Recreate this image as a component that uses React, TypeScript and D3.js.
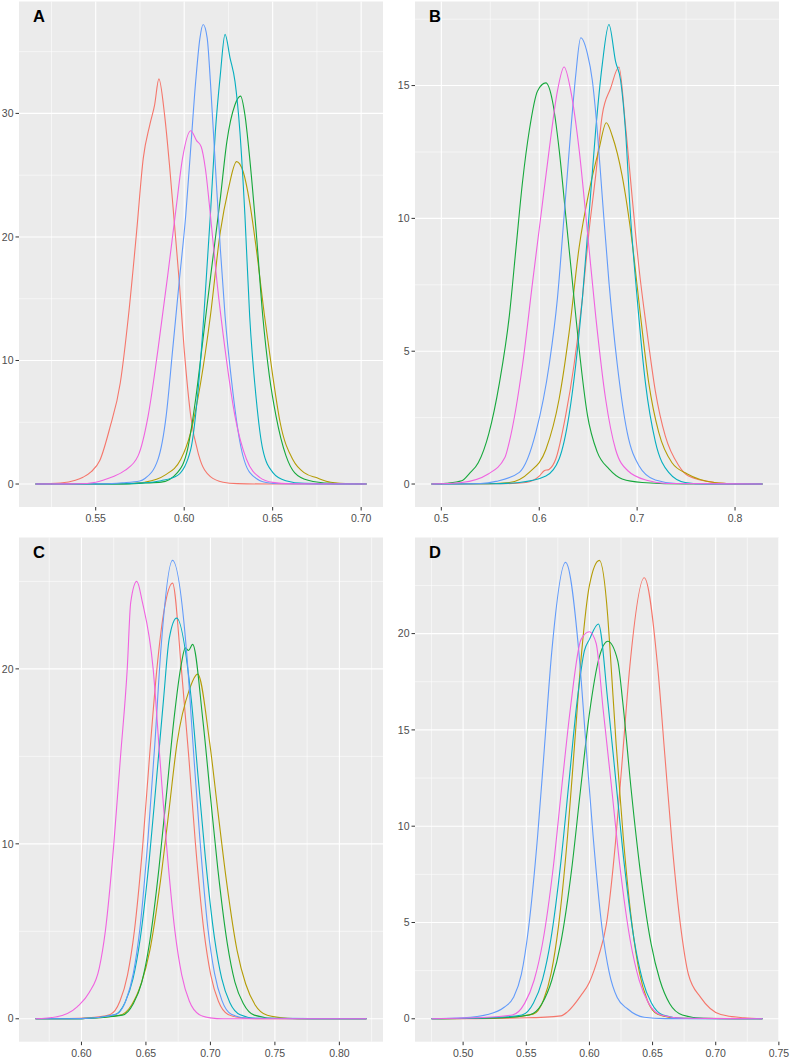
import React from 'react';
import * as d3 from 'd3';

type Pt = [number, number];

// hue palette, one colour per group (drawing order)
const COLORS = ['#F5766B', '#B49C05', '#16A83C', '#05AEBF', '#629BFA', '#F063E0'];

// ---------------- Panel A ----------------
const A_red: Pt[] = [[0.516,0],[0.530,0.08],[0.5385,0.3],[0.5428,0.55],[0.5475,1.0],[0.5523,1.9],[0.5579,4.5],[0.5639,8.2],[0.5685,13.6],[0.5731,20.4],[0.5769,26.4],[0.5806,29.1],[0.5833,30.7],[0.5857,32.8],[0.5889,29.9],[0.5917,25.8],[0.5944,21.2],[0.5972,16.4],[0.6,10.9],[0.6037,5.5],[0.6083,2.3],[0.6148,0.6],[0.622,0.15],[0.63,0.03],[0.65,0],[0.703,0]];
const A_gold: Pt[] = [[0.516,0],[0.56,0],[0.57,0.05],[0.5778,0.15],[0.5889,0.7],[0.5981,2.0],[0.6037,4.2],[0.6093,8.2],[0.6148,13.6],[0.6204,20.4],[0.625,23.9],[0.6296,26.1],[0.6333,25.3],[0.637,22.8],[0.6407,19.1],[0.6454,13.6],[0.65,8.8],[0.6542,5.0],[0.6617,1.9],[0.668,0.9],[0.675,0.5],[0.6828,0.15],[0.695,0.02],[0.703,0]];
const A_green: Pt[] = [[0.516,0],[0.565,0],[0.578,0.08],[0.587,0.15],[0.5963,0.95],[0.6019,2.8],[0.6065,6.9],[0.6111,12.3],[0.6157,17.7],[0.6204,23.1],[0.6241,27.7],[0.6287,30.7],[0.6319,31.4],[0.6343,29.9],[0.637,26.4],[0.6407,20.4],[0.6444,13.6],[0.6481,8.8],[0.6519,5.5],[0.6575,2.3],[0.6625,0.9],[0.67,0.3],[0.6828,0.05],[0.703,0]];
const A_teal: Pt[] = [[0.516,0],[0.56,0],[0.575,0.08],[0.587,0.27],[0.5963,0.7],[0.6037,2.8],[0.6074,6.9],[0.6111,13.6],[0.6148,21.8],[0.6176,28.5],[0.6204,33.1],[0.6231,36.4],[0.6259,34.5],[0.6287,32.6],[0.6315,28.5],[0.6343,21.8],[0.637,13.6],[0.6407,6.9],[0.6444,2.8],[0.65,0.95],[0.6574,0.27],[0.668,0.05],[0.703,0]];
const A_blue: Pt[] = [[0.516,0],[0.555,0.02],[0.565,0.1],[0.5749,0.25],[0.5778,0.45],[0.5852,2.0],[0.5898,5.5],[0.5935,10.9],[0.5972,16.4],[0.6009,21.8],[0.6037,27.2],[0.6065,32.6],[0.6089,36.1],[0.6107,37.2],[0.613,36.1],[0.6148,32.6],[0.6176,25.8],[0.6204,19.1],[0.6231,13.6],[0.6269,8.2],[0.6315,3.4],[0.637,0.95],[0.6463,0.12],[0.655,0.02],[0.703,0]];
const A_magenta: Pt[] = [[0.516,0],[0.54,0.02],[0.55,0.15],[0.5541,0.3],[0.56,0.6],[0.5665,1.1],[0.574,2.3],[0.5796,5.5],[0.5852,10.9],[0.5907,16.9],[0.5954,22.3],[0.5991,26.4],[0.6037,28.6],[0.607,27.8],[0.6096,27.3],[0.612,25.5],[0.6148,21.8],[0.6185,16.4],[0.6231,10.9],[0.6287,5.5],[0.6352,2.0],[0.6426,0.54],[0.65,0.13],[0.66,0.02],[0.703,0]];
const A_xTicks = [0.55, 0.60, 0.65, 0.70];
const A_xLabels = ['0.55', '0.60', '0.65', '0.70'];
const A_yTicks = [0, 10, 20, 30];
const A_yLabels = ['0', '10', '20', '30'];

// ---------------- Panel B ----------------
const B_red: Pt[] = [[0.49,0],[0.56,0.01],[0.5864,0.06],[0.60,0.3],[0.6051,0.5],[0.61,0.55],[0.6169,0.94],[0.6271,2.6],[0.6356,4.5],[0.6441,7.0],[0.6508,9.5],[0.6576,11.6],[0.6644,13.9],[0.6729,14.9],[0.6814,15.7],[0.6881,13.5],[0.6949,10.8],[0.7017,8.2],[0.7102,5.7],[0.7186,3.5],[0.7288,1.8],[0.7424,0.7],[0.7525,0.3],[0.7787,0.06],[0.80,0.01],[0.828,0]];
const B_gold: Pt[] = [[0.49,0],[0.54,0.01],[0.5695,0.06],[0.5898,0.44],[0.6068,1.3],[0.6203,3.2],[0.6305,5.7],[0.6407,8.9],[0.6508,11.0],[0.661,12.6],[0.6685,13.6],[0.6746,13.1],[0.6847,11.6],[0.6949,9.1],[0.7034,6.35],[0.7119,3.8],[0.722,1.95],[0.7356,0.8],[0.7513,0.38],[0.7787,0.06],[0.80,0.01],[0.828,0]];
const B_green: Pt[] = [[0.49,0],[0.505,0.03],[0.5208,0.12],[0.5288,0.4],[0.5377,0.8],[0.5485,1.9],[0.5593,3.8],[0.5695,6.35],[0.5763,8.9],[0.583,11.4],[0.5898,13.3],[0.5983,14.8],[0.6068,15.1],[0.6136,14.4],[0.6203,12.6],[0.6271,10.1],[0.6339,7.6],[0.6407,5.1],[0.6492,2.6],[0.6593,1.2],[0.6712,0.57],[0.6847,0.19],[0.705,0.06],[0.75,0],[0.828,0]];
const B_teal: Pt[] = [[0.49,0],[0.55,0.01],[0.5797,0.06],[0.6068,0.3],[0.6203,0.94],[0.6305,2.6],[0.6373,4.5],[0.6441,7.0],[0.6508,10.1],[0.6576,13.3],[0.6644,15.8],[0.6712,17.3],[0.678,15.9],[0.6831,15.2],[0.6881,13.3],[0.6932,10.1],[0.70,7.0],[0.7085,3.8],[0.7186,1.6],[0.7322,0.44],[0.749,0.06],[0.77,0],[0.828,0]];
const B_blue: Pt[] = [[0.49,0],[0.54,0.02],[0.5559,0.1],[0.5797,0.44],[0.5966,1.95],[0.6102,4.5],[0.6186,7.0],[0.6254,10.1],[0.6322,13.3],[0.6373,15.4],[0.6424,16.8],[0.6492,16.2],[0.6542,15.2],[0.6593,13.3],[0.6644,10.8],[0.6712,7.6],[0.6797,4.5],[0.6898,1.95],[0.7017,0.7],[0.7186,0.15],[0.74,0.02],[0.828,0]];
const B_magenta: Pt[] = [[0.49,0],[0.5208,0.06],[0.5479,0.38],[0.5649,1.0],[0.5695,1.6],[0.583,4.5],[0.5932,7.6],[0.6017,10.1],[0.6102,12.6],[0.6186,14.8],[0.6254,15.7],[0.6322,14.8],[0.6407,12.6],[0.6492,9.5],[0.6576,6.35],[0.6678,3.2],[0.678,1.3],[0.6905,0.5],[0.7108,0.13],[0.73,0.02],[0.828,0]];
const B_xTicks = [0.5, 0.6, 0.7, 0.8];
const B_xLabels = ['0.5', '0.6', '0.7', '0.8'];
const B_yTicks = [0, 5, 10, 15];
const B_yLabels = ['0', '5', '10', '15'];

// ---------------- Panel C ----------------
const C_red: Pt[] = [[0.5644,0],[0.59,0.01],[0.605,0.05],[0.6223,0.25],[0.6298,1.0],[0.6357,2.5],[0.641,5.0],[0.6476,10.0],[0.6528,15.0],[0.6585,20.0],[0.6642,23.4],[0.6706,24.9],[0.6775,20.0],[0.6832,15.0],[0.6884,10.0],[0.695,5.0],[0.7003,2.5],[0.7062,1.0],[0.7137,0.25],[0.725,0.05],[0.74,0],[0.821,0]];
const C_gold: Pt[] = [[0.5644,0],[0.60,0.01],[0.6295,0.2],[0.6389,0.79],[0.6463,2.0],[0.653,3.9],[0.6613,7.9],[0.6677,11.8],[0.6742,15.8],[0.6836,18.8],[0.6901,19.7],[0.6994,15.8],[0.7059,11.8],[0.7124,7.9],[0.7207,3.9],[0.7273,2.0],[0.7347,0.79],[0.7441,0.2],[0.76,0.03],[0.775,0],[0.821,0]];
const C_green: Pt[] = [[0.5644,0],[0.60,0.01],[0.6318,0.21],[0.6402,0.86],[0.6468,2.1],[0.6527,4.3],[0.6601,8.6],[0.6659,12.8],[0.6717,17.1],[0.6775,20.3],[0.6805,21.2],[0.683,21.05],[0.6862,21.4],[0.6941,17.1],[0.6999,12.8],[0.7057,8.6],[0.7131,4.3],[0.719,2.1],[0.7256,0.86],[0.734,0.21],[0.75,0.02],[0.821,0]];
const C_teal: Pt[] = [[0.5644,0],[0.60,0.01],[0.6257,0.23],[0.6337,0.92],[0.64,2.3],[0.6456,4.6],[0.6527,9.2],[0.6582,13.7],[0.6637,18.3],[0.668,21.7],[0.6738,22.9],[0.6851,18.3],[0.6906,13.7],[0.6961,9.2],[0.7032,4.6],[0.7088,2.3],[0.7151,0.92],[0.7231,0.23],[0.735,0.03],[0.821,0]];
const C_blue: Pt[] = [[0.5644,0],[0.60,0.01],[0.6272,0.26],[0.6345,1.05],[0.6402,2.6],[0.6454,5.2],[0.6518,10.5],[0.6569,15.7],[0.6615,21.0],[0.6706,26.2],[0.6815,21.0],[0.6865,15.7],[0.6916,10.5],[0.698,5.2],[0.7032,2.6],[0.7089,1.05],[0.7162,0.26],[0.73,0.03],[0.821,0]];
const C_magenta: Pt[] = [[0.5644,0],[0.58,0.1],[0.5969,0.7],[0.606,1.5],[0.6138,2.9],[0.6185,5.0],[0.6251,10.0],[0.6303,15.0],[0.6355,20.0],[0.6382,23.8],[0.6429,25.0],[0.6473,23.8],[0.6556,20.0],[0.6607,15.0],[0.6659,10.0],[0.6725,5.0],[0.6778,2.5],[0.6837,1.0],[0.6912,0.25],[0.70,0.05],[0.71,0],[0.821,0]];
const C_xTicks = [0.60, 0.65, 0.70, 0.75, 0.80];
const C_xLabels = ['0.60', '0.65', '0.70', '0.75', '0.80'];
const C_yTicks = [0, 10, 20];
const C_yLabels = ['0', '10', '20'];

// ---------------- Panel D ----------------
const D_red: Pt[] = [[0.475,0],[0.55,0.05],[0.5774,0.15],[0.5826,0.36],[0.5932,1.2],[0.60,1.9],[0.607,3.2],[0.6134,4.9],[0.6207,9.2],[0.6263,13.7],[0.632,18.3],[0.6434,22.9],[0.654,18.3],[0.6597,13.7],[0.6653,9.2],[0.6726,4.6],[0.6784,2.3],[0.6882,1.1],[0.704,0.22],[0.7225,0.05],[0.737,0]];
const D_gold: Pt[] = [[0.475,0],[0.53,0.05],[0.5554,0.24],[0.5635,0.95],[0.5698,2.4],[0.5755,4.8],[0.5827,9.5],[0.5883,14.3],[0.5938,19.0],[0.60,22.5],[0.6079,23.8],[0.6145,20.9],[0.6165,19.0],[0.6211,14.3],[0.6267,9.5],[0.6339,4.8],[0.6396,2.4],[0.6459,0.95],[0.654,0.24],[0.67,0.03],[0.737,0]];
const D_green: Pt[] = [[0.475,0],[0.525,0.04],[0.5524,0.2],[0.5624,0.78],[0.5702,2.0],[0.5772,3.9],[0.586,7.8],[0.5928,11.8],[0.5997,15.7],[0.6079,18.8],[0.6145,19.6],[0.6224,18.6],[0.6263,16.5],[0.6332,11.8],[0.64,7.8],[0.6488,3.9],[0.6558,2.0],[0.6636,0.78],[0.6736,0.2],[0.69,0.03],[0.737,0]];
const D_teal: Pt[] = [[0.475,0],[0.52,0.05],[0.5466,0.2],[0.5557,0.82],[0.5629,2.05],[0.5694,4.1],[0.5775,8.2],[0.5838,12.3],[0.5901,16.4],[0.596,19.1],[0.60,19.7],[0.6071,20.5],[0.6147,16.4],[0.621,12.3],[0.6273,8.2],[0.6354,4.1],[0.6419,2.05],[0.6491,0.82],[0.6582,0.2],[0.675,0.02],[0.737,0]];
const D_blue: Pt[] = [[0.475,0],[0.50,0.05],[0.5193,0.22],[0.5325,0.6],[0.5398,1.1],[0.5461,2.3],[0.5518,4.7],[0.559,9.5],[0.5645,14.2],[0.5701,19.0],[0.5811,23.7],[0.5917,19.0],[0.5973,14.2],[0.6029,9.5],[0.61,4.7],[0.6157,2.4],[0.622,1.1],[0.6301,0.52],[0.6433,0.08],[0.66,0.01],[0.737,0]];
const D_magenta: Pt[] = [[0.475,0],[0.51,0.05],[0.539,0.2],[0.5487,0.8],[0.5562,2.0],[0.5631,4.0],[0.5716,8.0],[0.5782,12.1],[0.5849,16.1],[0.5934,19.7],[0.60,20.1],[0.6053,19.5],[0.6108,16.1],[0.6174,12.1],[0.624,8.0],[0.6325,4.0],[0.6394,2.0],[0.6469,0.8],[0.6566,0.2],[0.675,0.03],[0.737,0]];
const D_xTicks = [0.50, 0.55, 0.60, 0.65, 0.70, 0.75];
const D_xLabels = ['0.50', '0.55', '0.60', '0.65', '0.70', '0.75'];
const D_yTicks = [0, 5, 10, 15, 20];
const D_yLabels = ['0', '5', '10', '15', '20'];

const FONT = "'Liberation Sans', Arial, Helvetica, sans-serif";

type PanelProps = {
  label: string;
  series: Pt[][];
  xTicks: number[];
  xLabels: string[];
  yTicks: number[];
  yLabels: string[];
  x0: number; x1: number; y0: number; y1: number;
};

function minorBreaks(major: number[], lo: number, hi: number): number[] {
  const step = major[1] - major[0];
  const cands = [major[0] - step / 2, ...major.map((t) => t + step / 2)];
  return cands.filter((v) => v >= lo && v <= hi);
}

function Panel({ label, series, xTicks, xLabels, yTicks, yLabels, x0, x1, y0, y1 }: PanelProps) {
  const all = series.flat();
  const xmin = d3.min(all, (p) => p[0]) as number;
  const xmax = d3.max(all, (p) => p[0]) as number;
  const ymax = d3.max(all, (p) => p[1]) as number;
  const xpad = (xmax - xmin) * 0.05;
  const ypad = ymax * 0.05;
  const xd: [number, number] = [xmin - xpad, xmax + xpad];
  const yd: [number, number] = [-ypad, ymax + ypad];
  const x = d3.scaleLinear().domain(xd).range([x0, x1]);
  const y = d3.scaleLinear().domain(yd).range([y1, y0]);
  const xMinor = minorBreaks(xTicks, xd[0], xd[1]);
  const yMinor = minorBreaks(yTicks, yd[0], yd[1]);
  const line = d3.line<Pt>().x((d) => x(d[0])).y((d) => y(d[1])).curve(d3.curveMonotoneX);
  const tickLen = 3.5;
  return (
    <g>
      <rect x={x0} y={y0} width={x1 - x0} height={y1 - y0} fill="#EBEBEB" />
      {xMinor.map((v, i) => (
        <line key={'xm' + i} x1={x(v)} x2={x(v)} y1={y0} y2={y1} stroke="#fff" strokeWidth={0.55} />
      ))}
      {yMinor.map((v, i) => (
        <line key={'ym' + i} x1={x0} x2={x1} y1={y(v)} y2={y(v)} stroke="#fff" strokeWidth={0.55} />
      ))}
      {xTicks.map((v, i) => (
        <line key={'xM' + i} x1={x(v)} x2={x(v)} y1={y0} y2={y1} stroke="#fff" strokeWidth={1.1} />
      ))}
      {yTicks.map((v, i) => (
        <line key={'yM' + i} x1={x0} x2={x1} y1={y(v)} y2={y(v)} stroke="#fff" strokeWidth={1.1} />
      ))}
      {series.map((s, i) => (
        <path key={'s' + i} d={line(s) || ''} fill="none" stroke={COLORS[i]} strokeWidth={1.1} strokeLinejoin="round" />
      ))}
      {xTicks.map((v, i) => (
        <g key={'xt' + i}>
          <line x1={x(v)} x2={x(v)} y1={y1} y2={y1 + tickLen} stroke="#333" strokeWidth={1} />
          <text x={x(v)} y={y1 + tickLen + 11.5} textAnchor="middle" fontFamily={FONT} fontSize={10.5} fill="#4D4D4D">
            {xLabels[i]}
          </text>
        </g>
      ))}
      {yTicks.map((v, i) => (
        <g key={'yt' + i}>
          <line x1={x0 - tickLen} x2={x0} y1={y(v)} y2={y(v)} stroke="#333" strokeWidth={1} />
          <text x={x0 - tickLen - 2} y={y(v)} dy="0.35em" textAnchor="end" fontFamily={FONT} fontSize={10.5} fill="#4D4D4D">
            {yLabels[i]}
          </text>
        </g>
      ))}
      <text x={x0 + 14} y={y0 + 20} fontFamily={FONT} fontWeight="bold" fontSize={16.5} fill="#000">
        {label}
      </text>
    </g>
  );
}

export default function App() {
  const W = 790;
  const H = 1058;
  return (
    <svg width={W} height={H} style={{ position: 'absolute', left: 0, top: 0, background: '#fff' }}>
      <rect x={0} y={0} width={W} height={H} fill="#fff" />
      <Panel label="A" series={[A_red, A_gold, A_green, A_teal, A_blue, A_magenta]} xTicks={A_xTicks} xLabels={A_xLabels} yTicks={A_yTicks} yLabels={A_yLabels} x0={19} x1={383} y0={1.5} y1={507} />
      <Panel label="B" series={[B_red, B_gold, B_green, B_teal, B_blue, B_magenta]} xTicks={B_xTicks} xLabels={B_xLabels} yTicks={B_yTicks} yLabels={B_yLabels} x0={415} x1={779} y0={1.5} y1={507} />
      <Panel label="C" series={[C_red, C_gold, C_green, C_teal, C_blue, C_magenta]} xTicks={C_xTicks} xLabels={C_xLabels} yTicks={C_yTicks} yLabels={C_yLabels} x0={19} x1={383} y0={537.5} y1={1041.7} />
      <Panel label="D" series={[D_red, D_gold, D_green, D_teal, D_blue, D_magenta]} xTicks={D_xTicks} xLabels={D_xLabels} yTicks={D_yTicks} yLabels={D_yLabels} x0={415} x1={779} y0={537.5} y1={1041.7} />
    </svg>
  );
}
